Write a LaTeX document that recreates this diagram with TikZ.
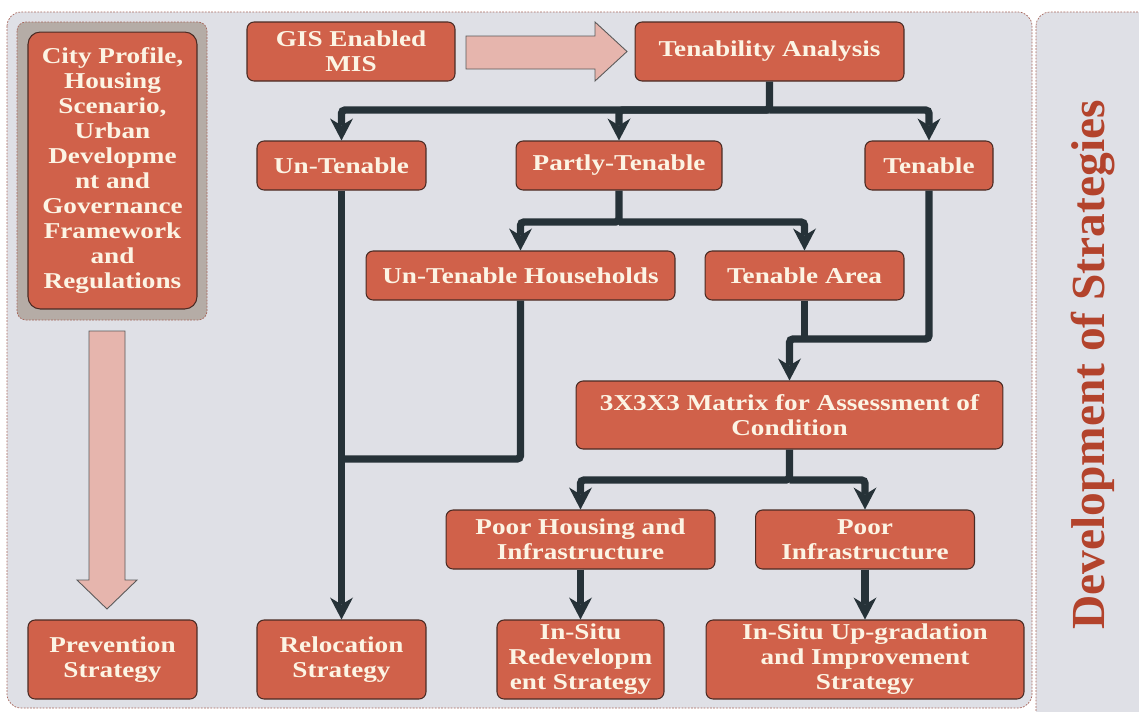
\documentclass[tikz,border=0pt]{standalone}
\usepackage{fontspec}
\setmainfont{Liberation Serif}
\newfontfamily\boxfont[FakeStretch=1.2]{Liberation Serif}
\usetikzlibrary{arrows.meta,positioning}
\definecolor{boxred}{HTML}{D0614A}
\definecolor{boxedge}{HTML}{4A2B24}
\definecolor{cream}{HTML}{FCF4E4}
\definecolor{panel}{HTML}{DFE0E6}
\definecolor{panelline}{HTML}{A8675C}
\definecolor{sidepanel}{HTML}{B5ACA6}
\definecolor{flowline}{HTML}{263238}
\definecolor{blockfill}{HTML}{E6B5AD}
\definecolor{titlered}{HTML}{B3432C}
\begin{document}
\begin{tikzpicture}[x=0.02cm,y=-0.02cm,
  box/.style={draw=boxedge,line width=0.6pt,fill=boxred,rounded corners=4pt,text=cream,align=center,inner sep=0pt,
    font=\boxfont\bfseries\fontsize{12.9}{14.2}\selectfont},
  wire/.style={draw=flowline,line width=4.2pt,rounded corners=2pt},
  flow/.style={wire,-{Stealth[length=0.44cm,width=0.46cm,inset=0.14cm,line width=0pt]}},
  blockarrow/.style={fill=blockfill,draw=black!65,line width=0.5pt},
  panelbox/.style={fill=panel,draw=panelline,line width=0.4pt,dash pattern=on 1pt off 0.8pt}]
\useasboundingbox (0,0) rectangle (1139,711);
\fill[white] (0,0) rectangle (1139,711);
\draw[panelbox,rounded corners=8pt] (7,12) rectangle (1032,708);
\draw[panelbox,rounded corners=8pt] (1036,12) rectangle (1160,730);
\draw[panelbox,fill=sidepanel,rounded corners=5pt] (17,22) rectangle (207,320);
\node[rotate=90,text=titlered,font=\bfseries\fontsize{27}{30}\selectfont] (heading) at (1093,365) {Development of Strategies};

\node[box,rounded corners=7pt,minimum width=3.38cm,minimum height=5.54cm] (city) at (112.5,170.5)
  {City Profile,\\Housing\\Scenario,\\Urban\\Developme\\nt and\\Governance\\Framework\\and\\Regulations};
\node[box,minimum width=4.16cm,minimum height=1.18cm] (gis) at (351,51.5) {GIS Enabled\\MIS};
\node[box,minimum width=5.38cm,minimum height=1.18cm] (tenab) at (769.5,51.5) {Tenability Analysis};
\node[box,minimum width=3.38cm,minimum height=0.98cm] (untn) at (341.5,165.5) {Un-Tenable};
\node[box,minimum width=4.12cm,minimum height=0.98cm] (partly) at (619,165.5) {Partly-Tenable};
\node[box,minimum width=2.56cm,minimum height=0.98cm] (tenable) at (929,165.5) {Tenable};
\node[box,minimum width=6.18cm,minimum height=0.98cm] (uth) at (520.5,275.5) {Un-Tenable Households};
\node[box,minimum width=3.98cm,minimum height=0.98cm] (tarea) at (804.5,275.5) {Tenable Area};
\node[box,minimum width=8.54cm,minimum height=1.36cm] (matrix) at (789.5,415) {3X3X3 Matrix for Assessment of\\Condition};
\node[box,minimum width=5.38cm,minimum height=1.18cm] (phi) at (580.5,539.5) {Poor Housing and\\Infrastructure};
\node[box,minimum width=4.38cm,minimum height=1.18cm] (pi) at (865,539.5) {Poor\\Infrastructure};
\node[box,minimum width=3.38cm,minimum height=1.58cm] (prev) at (112.5,659.5) {Prevention\\Strategy};
\node[box,minimum width=3.38cm,minimum height=1.58cm] (reloc) at (341.5,659.5) {Relocation\\Strategy};
\node[box,minimum width=3.34cm,minimum height=1.58cm] (insitu) at (580.5,659.5) {In-Situ\\Redevelopm\\ent Strategy};
\node[box,minimum width=6.36cm,minimum height=1.58cm] (upg) at (865,659.5) {In-Situ Up-gradation\\and Improvement\\Strategy};

\draw[blockarrow] (466,36) -- (595,36) -- (595,22) -- (627,51.5) -- (595,81) -- (595,69) -- (466,69) -- cycle;
\draw[blockarrow] (89,331) -- (125,331) -- (125,580) -- (137,580) -- (107,609) -- (77,580) -- (89,580) -- cycle;

\coordinate (bus1) at (769.5,110);
\coordinate (bus2) at (619,222);
\coordinate (bus3) at (789.5,480);
\coordinate (j1) at (341.5,459);
\coordinate (j2) at (789.5,339);
\draw[flow] (tenab.south) -- (bus1) -| (untn.north);
\draw[flow] (bus1) -| (partly.north);
\draw[flow] (bus1) -| (tenable.north);
\draw[flow] (partly.south) -- (bus2) -| (uth.north);
\draw[flow] (bus2) -| (tarea.north);
\draw[flow] (untn.south) -- (reloc.north);
\draw[wire] (uth.south) |- (j1);
\draw[flow] (tenable.south) |- (j2) -- (matrix.north);
\draw[wire] (tarea.south) -- (tarea.south |- j2);
\draw[flow] (matrix.south) -- (bus3) -| (phi.north);
\draw[flow] (bus3) -| (pi.north);
\draw[flow] (phi.south) -- (insitu.north);
\draw[flow] (pi.south) -- (upg.north);
\end{tikzpicture}
\end{document}
